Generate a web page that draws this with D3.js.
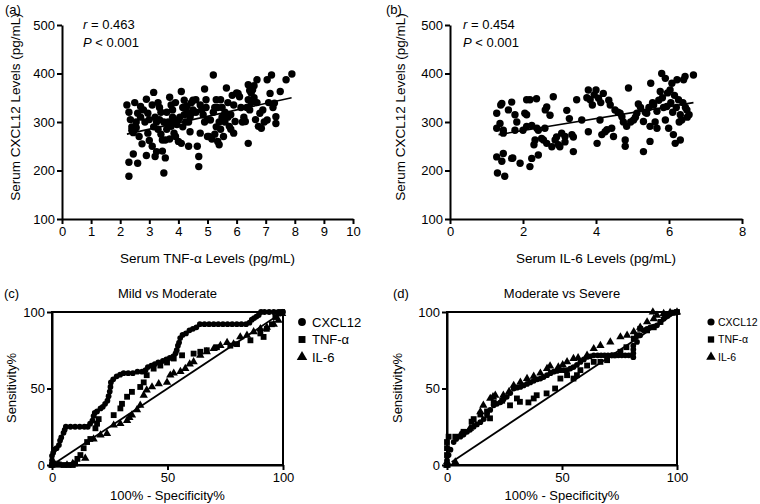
<!DOCTYPE html>
<html><head><meta charset="utf-8">
<script src="https://cdn.jsdelivr.net/npm/d3@7"></script>
<style>
body{margin:0;background:#fff;}
svg{font-family:"Liberation Sans",Arial,sans-serif;}
</style></head>
<body><svg id="c" width="760" height="504"></svg>
<script>
// ---------- DATA ----------
const scatterA = [ // [TNF-α, CXCL12]
[2.23,335],[2.3,320],[2.35,305],[2.4,290],[2.45,278],[2.5,340],[2.55,300],[2.3,217],[2.45,234],[2.6,215],[2.3,188],[2.4,283],[2.6,318],[2.55,288],
[2.7,332],[2.75,255],[2.7,310],[2.9,347],[2.95,277],[2.9,231],[2.85,300],[2.8,325],[3.0,305],[3.0,262],[2.95,318],[2.65,270],
[3.1,250],[3.15,361],[3.1,335],[3.2,310],[3.25,300],[3.2,229],[3.25,239],[3.3,285],[3.35,330],[3.4,320],[3.45,240],[3.5,195],[3.45,263],[3.3,340],[3.5,300],[3.4,275],[3.15,290],[3.35,305],
[3.55,226],[3.55,263],[3.6,320],[3.7,351],[3.75,291],[3.8,325],[3.85,277],[3.9,270],[3.65,300],[3.6,285],[3.8,310],[3.95,295],[3.9,340],[3.7,265],[4.0,305],[3.75,335],[3.85,300],[4.0,260],
[4.1,256],[4.1,363],[4.15,330],[4.2,315],[4.25,300],[4.3,333],[4.35,250],[4.4,280],[4.45,340],[4.2,345],[4.3,320],[4.05,310],[4.4,310],[4.5,325],[4.35,300],[4.15,290],[4.5,345],[4.45,318],
[4.6,346],[4.65,250],[4.7,229],[4.7,208],[4.75,277],[4.9,368],[4.95,346],[4.8,325],[4.85,315],[4.6,320],[5.0,305],[4.9,300],[5.0,270],[4.75,335],[4.95,330],
[5.05,270],[5.1,304],[5.2,397],[5.15,265],[5.25,330],[5.3,346],[5.35,330],[5.35,260],[5.4,253],[5.4,300],[5.45,346],[5.2,320],[5.3,290],[5.5,310],[5.45,285],[5.5,330],[5.25,275],
[5.55,270],[5.6,320],[5.65,370],[5.7,340],[5.75,291],[5.8,285],[5.85,355],[5.9,277],[5.95,301],[5.9,335],[5.7,310],[6.0,360],[5.8,315],[5.6,300],
[6.05,359],[6.1,352],[6.15,330],[6.2,300],[6.3,301],[6.35,330],[6.4,346],[6.4,256],[6.4,377],[6.45,365],[6.5,340],[6.25,310],[6.45,325],[6.5,360],
[6.55,366],[6.6,350],[6.7,387],[6.75,291],[6.8,318],[6.85,287],[6.7,340],[6.6,375],[6.9,325],[6.65,305],[6.95,300],
[7.05,387],[7.05,304],[7.15,359],[7.2,397],[7.3,339],[7.35,311],[7.35,297],[7.5,363],[7.7,387],[7.9,399],[7.25,330],[7.1,340]
];
const fitA = [[2.23,275],[7.89,350]];
const statsA = ["0.463","0.001"];

const scatterB = [ // [IL-6, CXCL12]
[1.28,318],[1.39,335],[1.28,287],[1.37,297],[1.46,283],[1.46,277],[1.28,228],[1.42,219],[1.46,235],[1.3,195],[1.5,188],[1.42,338],[1.6,325],[1.69,341],[1.78,315],[1.78,283],[1.83,300],[1.72,226],[1.69,225],[1.92,215],[2.0,283],[2.05,318],
[2.1,346],[2.1,315],[2.19,346],[2.19,208],[2.24,225],[2.24,293],[2.1,291],[2.3,253],[2.37,348],[2.38,287],[2.42,232],[2.42,283],[2.33,263],[2.51,266],[2.56,263],[2.6,287],[2.61,325],[2.65,331],[2.65,256],[2.74,314],[2.79,249],[2.83,352],[2.88,263],[2.92,269],[2.97,253],
[3.01,249],[3.06,277],[3.15,259],[3.15,270],[3.2,324],[3.27,307],[3.34,274],[3.38,269],[3.38,239],[3.47,346],[3.61,304],[3.75,350],[3.79,366],[3.79,280],[3.84,346],[3.9,335],[3.95,356],
[4.0,366],[4.03,256],[4.07,349],[4.11,304],[4.13,340],[4.16,274],[4.2,359],[4.25,280],[4.3,284],[4.35,345],[4.39,335],[4.43,287],[4.48,270],[4.52,325],[4.6,320],[4.66,318],[4.71,311],[4.75,300],[4.84,291],[4.8,263],[4.8,250],[4.89,370],[4.95,300],
[5.03,304],[5.08,310],[5.12,318],[5.16,337],[5.22,330],[5.3,301],[5.3,239],[5.35,320],[5.39,318],[5.45,330],[5.48,291],[5.48,260],[5.5,380],[5.55,340],[5.58,335],[5.62,300],[5.67,322],[5.67,287],[5.72,345],[5.76,363],[5.8,400],[5.82,350],[5.85,330],[5.9,390],[5.9,304],[5.94,332],[5.96,360],[5.99,287],
[6.03,366],[6.05,340],[6.08,380],[6.1,320],[6.12,274],[6.15,355],[6.17,256],[6.2,330],[6.22,387],[6.26,346],[6.28,300],[6.31,263],[6.31,315],[6.35,304],[6.38,340],[6.4,387],[6.44,394],[6.45,330],[6.49,325],[6.5,310],[6.55,315],[6.67,397]
];
const fitB = [[1.33,274],[6.67,340]];
const statsB = ["0.454","0.001"];

const xTicksA = [0,1,2,3,4,5,6,7,8,9,10];
const xTicksB = [0,2,4,6,8];
const yTicksScatter = [100,200,300,400,500];
const rocTicks = [0,50,100];
const legendNames = ["CXCL12","TNF-α","IL-6"];

const rocC_CXCL12 = [[0,0],[0,3],[0,6],[0.5,8],[1,10],[2,11],[3,13],[3.5,16],[4,18],[5,21],[5.5,23],[6,25],[8,25],[10,25],[12,25],[14,25],[15.5,25],[16.5,27],[17.5,29],[18,32],[18.5,34],[19.5,35],[21,37],[22,38],[23,40],[24,42],[24.5,45],[25,48],[25.3,51],[25.5,54],[26.5,56],[28,58],[29.5,59],[31,60],[33,60],[35,60],[37,61],[39,61],[40.5,62],[41.5,64],[43,65],[44.5,66],[46,67],[48,68],[49.5,69],[51,70],[52.5,71],[53.5,73],[54,75],[54.5,78],[55,80],[55.5,83],[56.5,85],[58,86],[59.5,88],[61,89],[62.5,90],[64,92],[66,92],[68,92],[70,92],[72,92],[74,92],[76,92],[78,92],[80,92],[82,92],[84,92],[85.5,93],[86.5,95],[87.5,96],[88.5,97],[89.5,98],[90.5,100],[92,100],[94,100],[96,100],[98,100],[100,100]];
const rocC_TNF = [[0,0],[0.7,1],[2.9,0.4],[5,0],[7.2,0],[9,0],[10,1],[11,4],[12.3,6.5],[13.7,11],[15.2,15],[16.6,17],[18.8,24],[19.5,27],[20.2,30],[26.7,32.6],[29.6,37],[30.3,40],[32.5,44.6],[34.6,47.8],[38.2,51],[39.7,54],[41,58.7],[44,63],[46.9,65],[49.8,67],[52.7,69.6],[56.3,71.7],[61.3,72.8],[64.2,74],[67,75],[71.4,77],[77.2,78],[80.1,79],[85.9,81.5],[90.2,86],[91.6,83.7],[93,89],[95.2,92],[96.7,96.7],[98,99],[99.6,100]];
const rocC_IL6 = [[0,0],[0.7,1],[3,0],[6.5,0],[9,1],[14.4,4.3],[18,17],[21,19.6],[23.8,20.6],[26.7,26],[29.6,27],[32.5,29],[33.5,31],[34.6,32.6],[36.8,36],[38.2,39],[39.7,45.6],[41,49],[43.3,51],[46.2,53],[49.8,54],[51.2,58.7],[52.7,60],[55.6,61],[57.7,63],[59.6,66],[61.3,67.4],[64.2,71.7],[67,74],[70,76],[72.9,78],[75.8,80],[78.6,79],[81.5,83.7],[84.4,84.8],[87.3,87],[90.2,89],[93,90],[96,92],[98,94.6],[99.6,99]];

const rocD_CXCL12 = [[0,0],[0,3],[0.7,6.5],[1.5,10],[2.9,15],[4,17],[5.8,18.5],[7.2,20],[8.7,21.7],[10,23],[11.6,25],[13,26.5],[14.5,28],[16,30],[17.4,32.6],[18.8,36],[20.3,39],[21.7,40],[23.2,41],[24.6,43],[26,44.6],[27.5,47],[29,50],[30.4,50.5],[31.9,51],[33.3,52],[34.8,53],[36.2,54],[37.7,55],[39.2,56],[40.6,56.5],[42,57.5],[43.5,58.7],[45,60],[46.4,61],[47.8,61.5],[49.3,62],[50.8,62],[52.2,62],[53.6,63],[55,64],[56.5,65.5],[58,67.4],[59.5,69],[60.9,70.6],[62.3,71],[63.8,71.7],[65.5,71.7],[67,71.7],[68.5,71.7],[70,71.7],[71.5,71.7],[73,71.7],[74.5,71.7],[76,71.7],[77.5,71.7],[79,71.7],[81,70.5],[81,73],[81,75.5],[81,78],[82.6,80.4],[84,84.8],[85.5,88],[87,89],[88.4,90],[90,90.5],[91.3,91.3],[92.8,93.5],[94.2,95.6],[95.7,97.5],[97.1,99],[98.5,99.5],[100,100]];
const rocD_TNF = [[0,0],[0,6.5],[0,11],[0,15],[0.7,18.5],[3.6,18.5],[7.2,21.7],[10.7,28.3],[11.6,30],[14.5,33],[18.7,30.5],[17.4,35],[20.3,41],[24,42],[27.4,39],[30.4,43.5],[31.7,41.3],[35.4,40.9],[37.7,43.5],[39,45.6],[43.3,46.8],[47,50],[49.3,56.5],[52.2,58.7],[55,56.5],[56.5,58.7],[58,62],[60.9,65],[63.8,67.4],[66.7,67.4],[69.6,68.5],[72.5,71.7],[75.4,74],[78,77],[81.2,82.6],[82.6,84.8],[84,89],[87,88],[89.9,90],[92.8,93.5],[95.7,97.8],[98.6,99.6],[100,100]];
const rocD_IL6 = [[0,0],[0,2],[3.6,2],[5.8,19.6],[10,24],[14.5,34.8],[15.8,39],[18.8,43.5],[20,44.6],[21,45.6],[24.5,45.6],[27,48],[29,52],[31.9,54],[34.8,56.5],[37.7,58],[40.6,60],[43.5,63],[44.8,64.6],[48.4,64],[50.3,65.5],[52.2,67.4],[55,69.6],[57,70],[60.9,71.7],[63.8,76],[66.7,78],[71,80.4],[75.4,83.7],[78.3,84.8],[81.2,87],[84,90],[87,93.5],[89.5,100],[89.9,95.6],[91.3,97.8],[94.2,99],[97,99.6],[100,100]];
const refLine = [[2,2],[98,98]];

// ---------- DRAW ----------
const svg = d3.select("#c");
const FS = 13;

function styleAxis(g){
  g.selectAll(".domain").attr("stroke","#000").attr("stroke-width",2);
  g.selectAll(".tick line").attr("stroke","#000").attr("stroke-width",2);
  g.selectAll(".tick text").attr("font-size",FS).attr("fill","#000").attr("font-family","Liberation Sans, Arial, sans-serif");
}

function scatterPanel(opt){
  const x = d3.scaleLinear().domain(opt.xd).range(opt.xr);
  const y = d3.scaleLinear().domain([100,500]).range([219,25]);
  const g = svg.append("g");
  g.append("g").attr("transform",`translate(0,${y(100)})`)
    .call(d3.axisBottom(x).tickValues(opt.xt).tickSize(5).tickSizeOuter(0).tickPadding(3)).call(styleAxis);
  g.append("g").attr("transform",`translate(${x(0)},0)`)
    .call(d3.axisLeft(y).tickValues(yTicksScatter).tickSize(5).tickSizeOuter(0).tickPadding(2)).call(styleAxis);
  g.selectAll("circle.pt").data(opt.data).join("circle").attr("class","pt")
    .attr("cx",d=>x(d[0])).attr("cy",d=>y(d[1])).attr("r",3.7).attr("fill","#000");
  g.append("path").datum(opt.fit).attr("d",d3.line().x(d=>x(d[0])).y(d=>y(d[1])))
    .attr("stroke","#000").attr("stroke-width",1.6).attr("fill","none");
  const t1 = g.append("text").attr("x",opt.statX).attr("y",29).attr("font-size",FS);
  t1.append("tspan").attr("font-style","italic").text("r");
  t1.append("tspan").text(" = "+opt.stats[0]);
  const t2 = g.append("text").attr("x",opt.statX).attr("y",47).attr("font-size",FS);
  t2.append("tspan").attr("font-style","italic").text("P");
  t2.append("tspan").text(" < "+opt.stats[1]);
  g.append("text").attr("x",opt.labX).attr("y",14).attr("font-size",FS).text(opt.label);
  g.append("text").attr("x",(opt.xr[0]+opt.xr[1])/2).attr("y",263).attr("text-anchor","middle")
    .attr("font-size",13.5).text(opt.xTitle);
  g.append("text").attr("transform",`translate(${opt.yTitleX},107) rotate(-90)`).attr("text-anchor","middle")
    .attr("font-size",13.5).text("Serum CXCL12 Levels (pg/mL)");
}

scatterPanel({xd:[0,10],xr:[62,353],xt:xTicksA,data:scatterA,fit:fitA,stats:statsA,statX:83,labX:5,label:"(a)",
  xTitle:"Serum TNF-α Levels (pg/mL)",yTitleX:20});
scatterPanel({xd:[0,8],xr:[450,742],xt:xTicksB,data:scatterB,fit:fitB,stats:statsB,statX:463,labX:386,label:"(b)",
  xTitle:"Serum IL-6 Levels (pg/mL)",yTitleX:405});

const sym = {
  circle: d3.symbol().type(d3.symbolCircle),
  square: d3.symbol().type(d3.symbolSquare),
  triangle: d3.symbol().type(d3.symbolTriangle)
};

function rocPanel(opt){
  const x = d3.scaleLinear().domain([0,100]).range(opt.xr);
  const y = d3.scaleLinear().domain([0,100]).range([465,312]);
  const g = svg.append("g");
  g.append("rect").attr("x",opt.xr[0]).attr("y",312).attr("width",opt.xr[1]-opt.xr[0]).attr("height",465-312)
    .attr("fill","none").attr("stroke","#000").attr("stroke-width",2);
  g.append("g").attr("transform",`translate(0,465)`)
    .call(d3.axisBottom(x).tickValues(rocTicks).tickSize(5).tickSizeOuter(0).tickPadding(3)).call(styleAxis);
  g.append("g").attr("transform",`translate(${opt.xr[0]},0)`)
    .call(d3.axisLeft(y).tickValues(rocTicks).tickSize(5).tickSizeOuter(0).tickPadding(2)).call(styleAxis);
  g.append("path").datum(refLine).attr("d",d3.line().x(d=>x(d[0])).y(d=>y(d[1])))
    .attr("stroke","#000").attr("stroke-width",1.8).attr("fill","none");
  const series = [[opt.il6,"triangle",30],[opt.tnf,"square",34],[opt.cx,"circle",26]];
  series.forEach(([data,s,size])=>{
    g.append("g").selectAll("path").data(data).join("path")
      .attr("transform",d=>`translate(${x(d[0])},${y(d[1])})`)
      .attr("d",sym[s].size(size)()).attr("fill","#000");
  });
  g.append("text").attr("x",opt.labX).attr("y",298).attr("font-size",FS).text(opt.label);
  g.append("text").attr("x",(opt.xr[0]+opt.xr[1])/2).attr("y",298).attr("text-anchor","middle").attr("font-size",FS).text(opt.title);
  g.append("text").attr("x",(opt.xr[0]+opt.xr[1])/2).attr("y",500).attr("text-anchor","middle").attr("font-size",FS).text("100% - Specificity%");
  g.append("text").attr("transform",`translate(${opt.yTitleX},388) rotate(-90)`).attr("text-anchor","middle").attr("font-size",FS).text("Sensitivity%");
  // legend
  const lg = g.append("g");
  const shapes = ["circle","square","triangle"];
  legendNames.forEach((n,i)=>{
    const yy = 322 + i*17.5;
    lg.append("path").attr("transform",`translate(${opt.legX},${yy})`).attr("d",sym[shapes[i]].size(opt.legSym)()).attr("fill","#000");
    lg.append("text").attr("x",opt.legX+opt.legGap).attr("y",yy+opt.legFS*0.36).attr("font-size",opt.legFS).text(n);
  });
}

rocPanel({xr:[52,283],cx:rocC_CXCL12,tnf:rocC_TNF,il6:rocC_IL6,labX:4,label:"(c)",title:"Mild vs Moderate",yTitleX:16,
  legX:302,legGap:10,legFS:13,legSym:48});
rocPanel({xr:[447,677],cx:rocD_CXCL12,tnf:rocD_TNF,il6:rocD_IL6,labX:393,label:"(d)",title:"Moderate vs Severe",yTitleX:402,
  legX:711,legGap:7,legFS:10.5,legSym:40});
</script>
</body></html>
